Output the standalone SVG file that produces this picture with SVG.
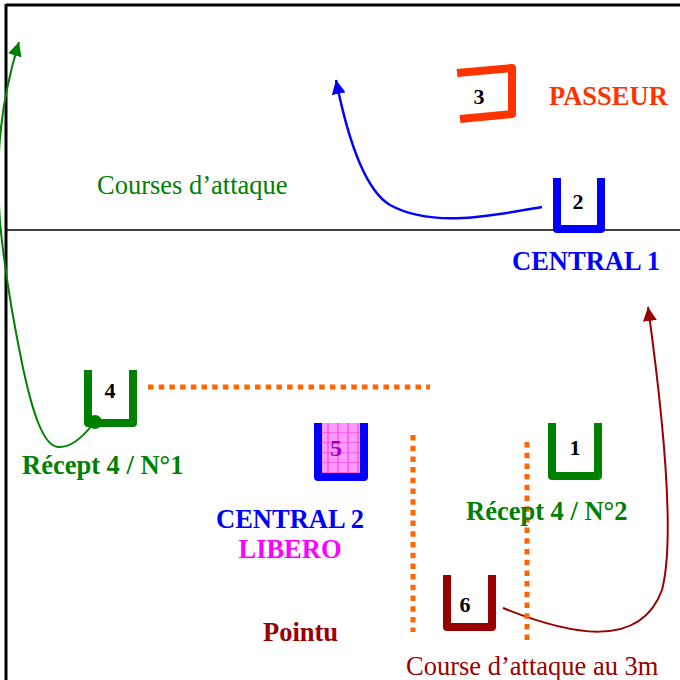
<svg xmlns="http://www.w3.org/2000/svg" width="680" height="680" viewBox="0 0 680 680">
<style>
.u{fill:none;stroke-width:8;stroke-linejoin:round}
.num{font-family:"Liberation Serif",serif;font-weight:bold;font-size:22px;fill:#000;text-anchor:middle}
.lbl{font-family:"Liberation Serif",serif;font-weight:bold;font-size:26.5px}
.reg{font-family:"Liberation Serif",serif;font-size:26.5px}
.dot{fill:none;stroke:#FF6600;stroke-width:5;stroke-dasharray:5.5 5.2}
</style>
<defs>
<marker id="ag" viewBox="0 0 14 14" refX="14" refY="7" markerWidth="14" markerHeight="14" markerUnits="userSpaceOnUse" orient="auto"><path d="M0,0 L14,7 L0,14 z" fill="#008000"/></marker>
<marker id="ab" viewBox="0 0 14 14" refX="14" refY="7" markerWidth="14" markerHeight="14" markerUnits="userSpaceOnUse" orient="auto"><path d="M0,0 L14,7 L0,14 z" fill="#0000FF"/></marker>
<marker id="ar" viewBox="0 0 14 14" refX="14" refY="7" markerWidth="14" markerHeight="14" markerUnits="userSpaceOnUse" orient="auto"><path d="M0,0 L14,7 L0,14 z" fill="#990000"/></marker>
<pattern id="grid" x="322" y="423" width="10" height="10" patternUnits="userSpaceOnUse">
<rect width="10" height="10" fill="#FF99FF"/>
<path d="M6,0 V10 M0,10 H10" stroke="#FF33CC" stroke-width="1"/>
</pattern>
</defs>
<g id="court">
<line x1="6" y1="5" x2="680" y2="5" stroke="#000" stroke-width="3"/>
<line x1="6" y1="4" x2="6" y2="680" stroke="#000" stroke-width="3"/>
<line x1="6" y1="230" x2="680" y2="230" stroke="#000" stroke-width="1.5"/>
</g>
<g id="connectors">
<path d="M93,424 C82,438 70,448 58,447 C42,446 31,405 23,368 C13,320 4,265 0,222 C-4,165 -2,110 19,42" fill="none" stroke="#008000" stroke-width="2" marker-end="url(#ag)"/>
<path d="M542,207 C490,216 432,228 390,205 C365,190 348,140 336,80" fill="none" stroke="#0000FF" stroke-width="2.5" marker-end="url(#ab)"/>
<path d="M503,608 C570,635 640,650 662,590 C675,540 665,430 648,307" fill="none" stroke="#990000" stroke-width="2" marker-end="url(#ar)"/>
<line class="dot" x1="148" y1="387" x2="430" y2="387"/>
<line class="dot" x1="413" y1="435" x2="413" y2="632"/>
<line class="dot" x1="527" y1="442" x2="527" y2="640"/>
</g>
<g id="node3">
<path class="u" d="M457,73 L512,68 L512,114 L460,119" stroke="#FF3300" stroke-width="7"/>
<text class="num" x="479" y="104">3</text>
</g>
<g id="passeur"><text class="lbl" x="549" y="105" fill="#FF3300">PASSEUR</text></g>
<g id="node2">
<path class="u" d="M557,178 V229 H601 V178" stroke="#0000FF"/>
<text class="num" x="578" y="209">2</text>
</g>
<g id="central1"><text class="lbl" x="512" y="270" fill="#0000FF">CENTRAL 1</text></g>
<g id="courses"><text class="reg" x="97" y="194" fill="#008000">Courses d’attaque</text></g>
<g id="node4">
<path class="u" d="M88,370 V423 H133 V370" stroke="#008000"/>
<circle cx="95" cy="422" r="7" fill="#008000"/>
<text class="num" x="110" y="398">4</text>
</g>
<g id="recept1"><text class="lbl" x="22" y="474" fill="#008000">Récept 4 / N°1</text></g>
<g id="node5">
<rect x="322" y="423" width="38" height="50" fill="url(#grid)"/>
<path class="u" d="M318,423 V477 H364 V423" stroke="#0000FF"/>
<text x="336" y="456" font-family="Liberation Serif,serif" font-weight="bold" font-size="24" fill="#9900CC" text-anchor="middle">5</text>
</g>
<g id="central2"><text class="lbl" x="290" y="528" fill="#0000FF" text-anchor="middle">CENTRAL 2</text></g>
<g id="libero"><text class="lbl" x="290" y="558" fill="#FF00FF" text-anchor="middle">LIBERO</text></g>
<g id="node1">
<path class="u" d="M552,423 V476 H598 V423" stroke="#008000"/>
<text class="num" x="575" y="455">1</text>
</g>
<g id="recept2"><text class="lbl" x="466" y="520" fill="#008000">Récept 4 / N°2</text></g>
<g id="node6">
<path class="u" d="M447,575 V627 H492 V575" stroke="#990000"/>
<text class="num" x="465" y="612">6</text>
</g>
<g id="pointu"><text class="lbl" x="263" y="641" fill="#990000">Pointu</text></g>
<g id="course3m"><text class="reg" x="406" y="675" fill="#990000">Course d’attaque au 3m</text></g>
</svg>
